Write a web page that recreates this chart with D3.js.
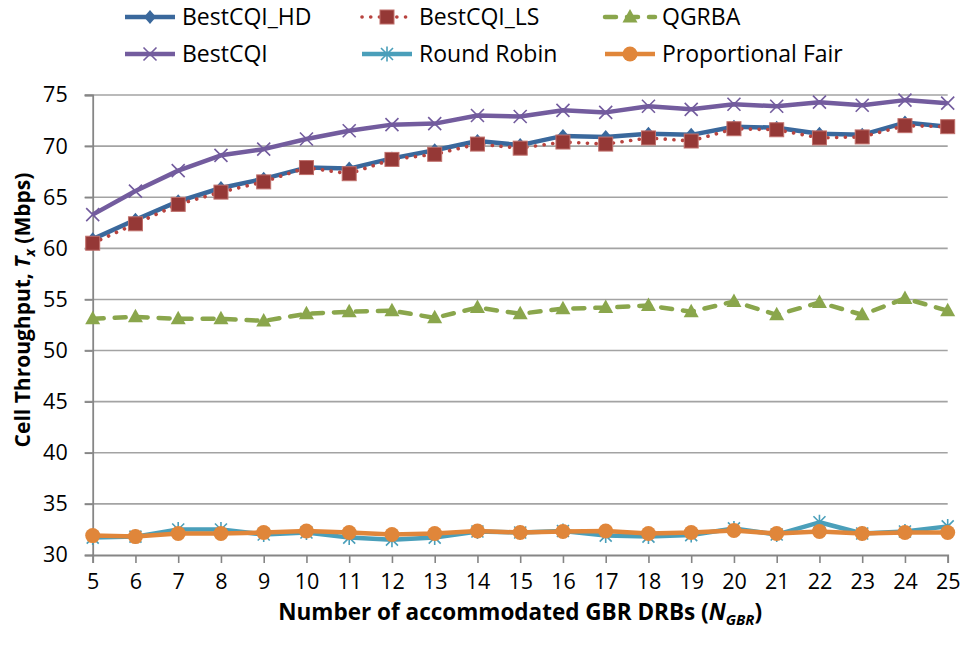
<!DOCTYPE html>
<html>
<head>
<meta charset="utf-8">
<script src="https://cdn.jsdelivr.net/npm/d3@7"></script>
<style>
  body { margin: 0; background: #fff; }
  text { font-family: "Open Sans", sans-serif; fill: #000; }
  .tick-label { font-size: 21.5px; }
  .leyenda { font-size: 23px; }
  .titulo { font-size: 21px; font-weight: bold; }
</style>
</head>
<body>
<script>
var anchoSvg = 964,
    altoSvg = 646,
    margen = {sup: 95, dcho: 16.3, izq: 92.7, inf: 91};

// datos
var nGBR = [5, 6, 7, 8, 9, 10, 11, 12, 13, 14, 15, 16, 17, 18, 19, 20, 21, 22, 23, 24, 25];
var bestCQI_HD = [60.9, 62.8, 64.6, 65.9, 66.8, 67.9, 67.8, 68.8, 69.6, 70.5, 70.1, 71.0, 70.9, 71.2, 71.1, 71.9, 71.8, 71.2, 71.1, 72.3, 71.9];
var bestCQI_LS = [60.5, 62.4, 64.3, 65.5, 66.5, 67.9, 67.3, 68.7, 69.2, 70.2, 69.8, 70.4, 70.2, 70.8, 70.5, 71.7, 71.6, 70.8, 70.9, 72.0, 71.9];
var qgrba = [53.1, 53.3, 53.1, 53.1, 52.9, 53.6, 53.8, 53.9, 53.2, 54.2, 53.6, 54.1, 54.2, 54.4, 53.8, 54.8, 53.5, 54.7, 53.5, 55.1, 53.9];
var bestCQI = [63.3, 65.6, 67.6, 69.1, 69.7, 70.7, 71.5, 72.1, 72.2, 73.0, 72.9, 73.5, 73.3, 73.9, 73.6, 74.1, 73.9, 74.3, 74.0, 74.5, 74.2];
var roundRobin = [31.7, 31.8, 32.5, 32.5, 32.0, 32.2, 31.7, 31.5, 31.7, 32.3, 32.2, 32.35, 31.9, 31.8, 31.95, 32.6, 32.0, 33.2, 32.1, 32.3, 32.8];
var propFair = [31.9, 31.8, 32.1, 32.1, 32.2, 32.35, 32.2, 32.0, 32.1, 32.35, 32.2, 32.3, 32.35, 32.1, 32.2, 32.4, 32.1, 32.3, 32.1, 32.2, 32.2];
var ticksY = [30, 35, 40, 45, 50, 55, 60, 65, 70, 75];

// series en el orden de dibujo (como Excel)
var series = [
    {nombre: 'BestCQI_HD', valores: bestCQI_HD, color: '#3a689c', ancho: 4.5, guiones: null, marca: 'diamante'},
    {nombre: 'BestCQI_LS', valores: bestCQI_LS, color: '#b8433f', ancho: 3.6, guiones: '0.1 8.6', marca: 'cuadrado'},
    {nombre: 'QGRBA', valores: qgrba, color: '#8aa64c', ancho: 4.5, guiones: '11 11', marca: 'triangulo'},
    {nombre: 'BestCQI', valores: bestCQI, color: '#735c9e', ancho: 4.5, guiones: null, marca: 'equis'},
    {nombre: 'Round Robin', valores: roundRobin, color: '#4a9fba', ancho: 4.5, guiones: null, marca: 'asterisco'},
    {nombre: 'Proportional Fair', valores: propFair, color: '#e0863a', ancho: 4.5, guiones: null, marca: 'circulo'}
];

var escalaX = d3.scaleLinear()
    .domain([5, 25])
    .range([margen.izq, anchoSvg - margen.dcho]);

var escalaY = d3.scaleLinear()
    .domain([30, 75])
    .range([altoSvg - margen.inf, margen.sup]);

var elementoSvg = d3.select('body')
    .append('svg')
    .attr('width', anchoSvg)
    .attr('height', altoSvg);

// rejilla horizontal + marcas del eje Y
elementoSvg.append('g')
    .attr('class', 'rejilla')
    .selectAll('line')
    .data(ticksY.slice(1))
    .enter()
    .append('line')
    .attr('x1', margen.izq - 8)
    .attr('x2', escalaX(25))
    .attr('y1', d => escalaY(d))
    .attr('y2', d => escalaY(d))
    .style('stroke', '#a3a3a3')
    .style('stroke-width', 1.6);

// eje Y
var ejeY = d3.axisLeft(escalaY)
    .tickValues(ticksY)
    .tickSize(8)
    .tickPadding(17)
    .tickFormat(d3.format('d'));
var gY = elementoSvg.append('g')
    .attr('transform', 'translate(' + margen.izq + ',0)')
    .call(ejeY);
gY.select('.domain').style('stroke', '#868686').style('stroke-width', 1.8);
gY.selectAll('.tick line').style('stroke', '#868686').style('stroke-width', 1.6);
gY.selectAll('.tick text').attr('class', 'tick-label').attr('font-family', null).attr('font-size', null);

// eje X
var ejeX = d3.axisBottom(escalaX)
    .tickValues(nGBR)
    .tickSize(8)
    .tickPadding(11)
    .tickFormat(d3.format('d'));
var gX = elementoSvg.append('g')
    .attr('transform', 'translate(0,' + escalaY(30) + ')')
    .call(ejeX);
gX.select('.domain').style('stroke', '#868686').style('stroke-width', 1.8);
gX.selectAll('.tick line').style('stroke', '#868686').style('stroke-width', 1.6);
gX.selectAll('.tick text').attr('class', 'tick-label').attr('font-family', null).attr('font-size', null);

// marcas
function dibujaMarca(sel, tipo, color) {
    if (tipo == 'diamante') {
        sel.append('path').attr('d', 'M0,-7L6,0L0,7L-6,0Z').style('fill', color);
    } else if (tipo == 'cuadrado') {
        sel.append('rect').attr('x', -7).attr('y', -7).attr('width', 14).attr('height', 14)
            .style('fill', '#953836').style('stroke', '#c0706c').style('stroke-width', 1);
    } else if (tipo == 'triangulo') {
        sel.append('path').attr('d', 'M0,-8L7.5,5.5L-7.5,5.5Z').style('fill', color);
    } else if (tipo == 'equis') {
        sel.append('path').attr('d', 'M-6.5,-6.5L6.5,6.5M-6.5,6.5L6.5,-6.5')
            .style('stroke', color).style('stroke-width', 1.6).style('fill', 'none');
    } else if (tipo == 'asterisco') {
        sel.append('path').attr('d', 'M-6,-6L6,6M-6,6L6,-6M0,-7.5L0,7.5')
            .style('stroke', color).style('stroke-width', 1.6).style('fill', 'none');
    } else if (tipo == 'circulo') {
        sel.append('circle').attr('r', 7.5).style('fill', color);
    }
}

var linea = d3.line()
    .x((d, i) => escalaX(nGBR[i]))
    .y(d => escalaY(d));

var grupos = elementoSvg.append('g')
    .attr('class', 'grupo-lineas')
    .selectAll('.serie')
    .data(series)
    .enter()
    .append('g')
    .attr('class', 'serie');

grupos.append('path')
    .attr('d', d => linea(d.valores))
    .style('fill', 'none')
    .style('stroke', d => d.color)
    .style('stroke-width', d => d.ancho)
    .style('stroke-linecap', d => d.guiones ? 'round' : 'butt')
    .style('stroke-linejoin', 'round')
    .style('stroke-dasharray', d => d.guiones);

grupos.each(function(s) {
    d3.select(this)
        .selectAll('.marca')
        .data(s.valores)
        .enter()
        .append('g')
        .attr('class', 'marca')
        .attr('transform', (d, i) => 'translate(' + escalaX(nGBR[i]) + ',' + escalaY(d) + ')')
        .each(function() { dibujaMarca(d3.select(this), s.marca, s.color); });
});

// leyenda
var columnasLeyenda = [125, 362, 605];
var filasLeyenda = [17, 54];
var leyendas = elementoSvg.append('g')
    .attr('class', 'leyendas')
    .selectAll('g')
    .data(series)
    .enter()
    .append('g')
    .attr('transform', (d, i) => 'translate(' + columnasLeyenda[i % 3] + ',' + filasLeyenda[Math.floor(i / 3)] + ')');

leyendas.append('line')
    .attr('x1', 0).attr('x2', 50)
    .style('stroke', d => d.color)
    .style('stroke-width', d => d.ancho)
    .style('stroke-linecap', d => d.guiones ? 'round' : 'butt')
    .style('stroke-dasharray', d => d.guiones);
leyendas.append('g')
    .attr('transform', 'translate(25,0)')
    .each(function(d) { dibujaMarca(d3.select(this), d.marca, d.color); });
leyendas.append('text')
    .attr('class', 'leyenda')
    .attr('x', 57)
    .attr('dy', '0.35em')
    .text(d => d.nombre);

// titulo eje X
var tituloX = elementoSvg.append('text')
    .attr('class', 'titulo')
    .attr('text-anchor', 'middle')
    .attr('x', (escalaX(5) + escalaX(25)) / 2)
    .attr('y', 620)
    .style('font-size', '22.5px');
tituloX.append('tspan').text('Number of accommodated GBR DRBs (');
tituloX.append('tspan').style('font-style', 'italic').text('N');
tituloX.append('tspan').style('font-style', 'italic').style('font-size', '15px').attr('dy', 5).text('GBR');
tituloX.append('tspan').attr('dy', -5).text(')');

// titulo eje Y
var tituloY = elementoSvg.append('text')
    .attr('class', 'titulo')
    .attr('text-anchor', 'middle')
    .attr('transform', 'translate(30,310) rotate(-90)');
tituloY.append('tspan').text('Cell Throughput, ');
tituloY.append('tspan').style('font-style', 'italic').text('T');
tituloY.append('tspan').style('font-style', 'italic').style('font-size', '14px').attr('dy', 5).text('x');
tituloY.append('tspan').attr('dy', -5).text(' (Mbps)');
</script>
</body>
</html>
